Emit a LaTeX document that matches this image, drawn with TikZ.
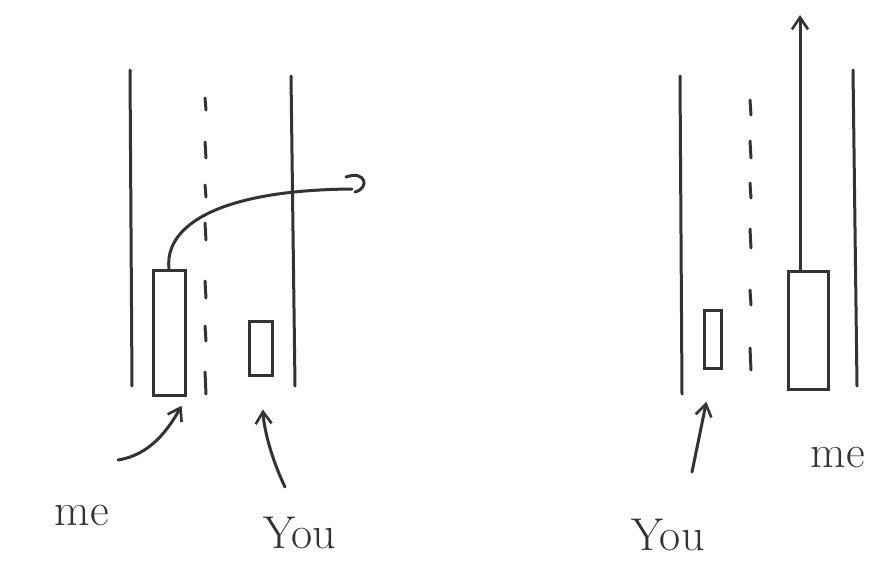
\documentclass[tikz,border=0pt]{standalone}
\usetikzlibrary{arrows.meta}
\tikzset{
  pen/.style={line width=3pt, draw=black!80, line cap=round},
  car/.style={pen, rectangle, inner sep=0pt},
  lbl/.style={font=\fontsize{46}{50}\selectfont, text=black!80, inner sep=0pt},
  tip/.style={-{Straight Barb[length=12pt, width=16pt, line width=2.6pt]}},
}
\begin{document}
\begin{tikzpicture}[x=1pt, y=-1pt]
    \useasboundingbox (0,0) rectangle (876,565);
    % left: changing lanes
    \draw[pen] (130,70) -- (132,386);
    \draw[pen] (291,76) -- (295,386);
    \foreach \a/\b in {98/110, 142/158, 185/197, 223/240, 281/298, 326/341, 372/394}
        \draw[pen] (205,\a) -- (206,\b);
    \node[car, minimum width=32, minimum height=125] (meA) at (169,333) {};
    \node[car, minimum width=23, minimum height=54] (youA) at (261,348) {};
    \draw[pen] (meA.north) .. controls (164,225) and (220,190) .. (352,189);
    \draw[pen] (346,177) .. controls (366,170) and (370,188) .. (355,192);
    \node[lbl] (meAlbl) at (82,516) {me};
    \node[lbl] (youAlbl) at (300,533) {You};
    \coordinate (meAtail) at (118,460);
    \coordinate (youAtail) at (285,487);
    \draw[pen, tip, shorten >=10pt] (meAtail) .. controls (150,455) and (168,430) .. (meA.south east);
    \draw[pen, tip, shorten >=33pt] (youAtail) .. controls (272,460) and (264,430) .. (youA.south);
    % right: going straight
    \draw[pen] (680,76) -- (682,394);
    \draw[pen] (853,70) -- (857,386);
    \foreach \a/\b in {100/115, 141/158, 183/198, 229/248, 290/305, 348/370}
        \draw[pen] (750,\a) -- (751,\b);
    \node[car, minimum width=17, minimum height=58] (youB) at (713,339) {};
    \node[car, minimum width=40, minimum height=118] (meB) at (808,330) {};
    \coordinate (goB) at (800,15);
    \draw[pen, tip] ([xshift=-8pt]meB.north) -- (goB);
    \node[lbl] (youBlbl) at (668,535) {You};
    \node[lbl] (meBlbl) at (838,458) {me};
    \coordinate (youBtail) at (692,472);
    \draw[pen, tip, shorten >=33pt] (youBtail) -- (youB.south);
\end{tikzpicture}
\end{document}
